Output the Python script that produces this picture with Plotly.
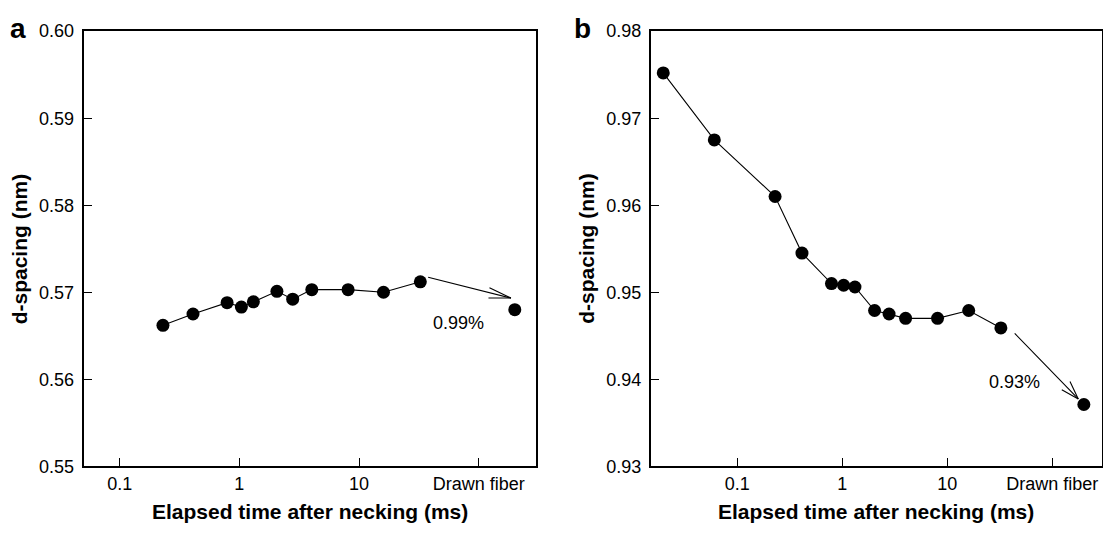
import numpy as np
import plotly.graph_objects as go

# ---------------- data ----------------
time_a = [0.23, 0.41, 0.79, 1.04, 1.31, 2.06, 2.79, 4.03, 8.1, 16.0, 32.5]
dspacing_a = [0.5662, 0.5675, 0.5688, 0.5683, 0.5689, 0.5701, 0.5692, 0.5703, 0.5703, 0.5700, 0.5712]

time_b = [0.0197, 0.0604, 0.229, 0.413, 0.789, 1.03, 1.32, 2.03, 2.79, 4.01, 8.08, 16.0, 32.4]
dspacing_b = [0.9752, 0.9675, 0.9610, 0.9545, 0.9510, 0.9508, 0.9506, 0.9479, 0.9475,
              0.9470, 0.9470, 0.9479, 0.9459]

drawn_x = [200]
drawn_a = [0.5680]
drawn_b = [0.9371]

xtick_vals = [0.1, 1, 10, 100]
xtick_text = ["0.1", "1", "10", "Drawn fiber"]
ytick_a = [0.55, 0.56, 0.57, 0.58, 0.59, 0.60]
ytick_b = [0.93, 0.94, 0.95, 0.96, 0.97, 0.98]

# arrow (tail -> tip) and label positions, data units
arrow_a = dict(tail=(36.7, 0.57176), tip=(185.8, 0.56933))
arrow_b = dict(tail=(42.5, 0.94545), tip=(177.0, 0.93774))
label_a = ("0.99%", 67.9, 0.56648)
label_b = ("0.93%", 43.5, 0.93966)

# ---------------- figure ----------------
W, H = 1103, 535
FONT = "Liberation Sans, Arial, sans-serif"

fig = go.Figure()

mk = dict(color="black", size=13)
fig.add_trace(go.Scatter(x=time_a, y=dspacing_a, mode="lines+markers",
                         line=dict(color="black", width=1.1), marker=mk,
                         xaxis="x", yaxis="y", showlegend=False))
fig.add_trace(go.Scatter(x=drawn_x, y=drawn_a, mode="markers", marker=mk,
                         xaxis="x", yaxis="y", showlegend=False))
fig.add_trace(go.Scatter(x=time_b, y=dspacing_b, mode="lines+markers",
                         line=dict(color="black", width=1.1), marker=mk,
                         xaxis="x2", yaxis="y2", showlegend=False))
fig.add_trace(go.Scatter(x=drawn_x, y=drawn_b, mode="markers", marker=mk,
                         xaxis="x2", yaxis="y2", showlegend=False))

ydom = [1 - 474 / H, 1 - 22 / H]
common_ax = dict(showline=True, mirror=True, linecolor="black", linewidth=1.5,
                 ticks="inside", ticklen=9, tickwidth=1.3, tickcolor="black",
                 showgrid=False, zeroline=False,
                 tickfont=dict(family=FONT, size=18, color="black"))

fig.update_layout(
    width=W, height=H,
    margin=dict(l=0, r=0, t=0, b=0),
    paper_bgcolor="white", plot_bgcolor="white",
    font=dict(family=FONT, color="black"),
    xaxis=dict(type="log", range=[-1.302, 2.474], domain=[83.5 / W, 535.5 / W], anchor="y",
               tickvals=xtick_vals, ticktext=xtick_text, ticklabelstandoff=0, **common_ax),
    yaxis=dict(range=[0.55, 0.60], domain=ydom, anchor="x",
               tickvals=ytick_a, tickformat=".2f", ticklabelstandoff=4, **common_ax),
    xaxis2=dict(type="log", range=[-1.825, 2.472], domain=[650.7 / W, 1101.8 / W], anchor="y2",
                tickvals=xtick_vals, ticktext=xtick_text, ticklabelstandoff=0, **common_ax),
    yaxis2=dict(range=[0.93, 0.98], domain=ydom, anchor="x2",
                tickvals=ytick_b, tickformat=".2f", ticklabelstandoff=4, **common_ax),
)

ann = []


def add_arrow(arrow, xr, yr, barbs):
    (tx, ty), (hx, hy) = arrow["tail"], arrow["tip"]
    ann.append(dict(x=np.log10(hx), y=hy, ax=np.log10(tx), ay=ty, xref=xr, yref=yr,
                    axref=xr, ayref=yr, text="", showarrow=True, arrowhead=0,
                    arrowwidth=1.1, arrowcolor="black", standoff=0, startstandoff=0))
    for bx, by in barbs:
        ann.append(dict(x=np.log10(hx), y=hy, ax=bx, ay=by, xref=xr, yref=yr,
                        text="", showarrow=True, arrowhead=0, arrowwidth=1.1,
                        arrowcolor="black", standoff=0, startstandoff=0))


add_arrow(arrow_a, "x", "y", [(-23, -11), (-24, 0)])
add_arrow(arrow_b, "x2", "y2", [(-18, -10), (-9, -19)])

for (txt, lx, ly), xr, yr in [(label_a, "x", "y"), (label_b, "x2", "y2")]:
    ann.append(dict(x=np.log10(lx), y=ly, xref=xr, yref=yr, text=txt, showarrow=False,
                    font=dict(family=FONT, size=18, color="black")))

# axis titles and panel letters
xt_font = dict(family=FONT, size=21, color="black", weight="bold")
for cx in [(83.5 + 535.5) / 2, (650.7 + 1101.8) / 2]:
    ann.append(dict(x=cx / W, y=1 - 520.5 / H, xref="paper", yref="paper",
                    text="<b>Elapsed time after necking (ms)</b>", showarrow=False,
                    xanchor="center", yanchor="middle", font=xt_font))
for cx in [19.6, 587.0]:
    ann.append(dict(x=cx / W, y=1 - 248 / H, xref="paper", yref="paper",
                    text="<b>d-spacing (nm)</b>", showarrow=False, textangle=-90,
                    xanchor="center", yanchor="middle", font=xt_font))
for letter, cx in [("a", 17.5), ("b", 582.5)]:
    ann.append(dict(x=cx / W, y=1 - 19 / H, xref="paper", yref="paper",
                    text="<b>" + letter + "</b>", showarrow=False,
                    xanchor="center", yanchor="middle",
                    font=dict(family=FONT, size=28, color="black")))

fig.update_layout(annotations=ann)

fig.write_html("out.html")
